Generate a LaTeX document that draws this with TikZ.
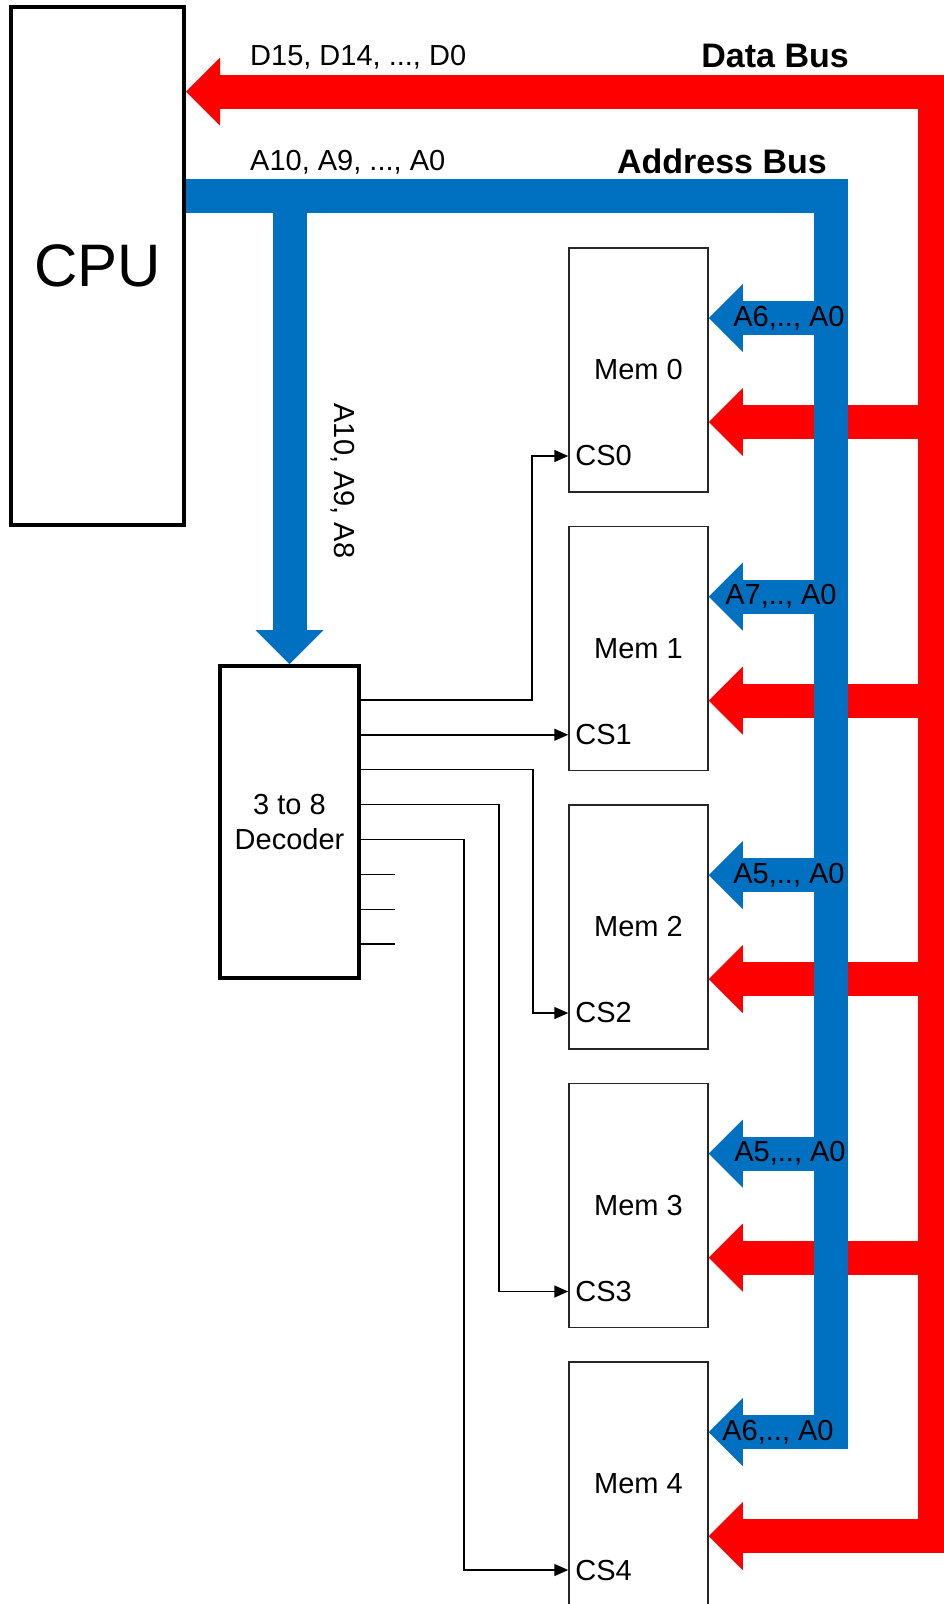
\documentclass[tikz,border=0pt]{standalone}
\usepackage{fontspec}
\setmainfont{Liberation Sans}
\usetikzlibrary{arrows.meta}
\definecolor{busred}{RGB}{255,0,0}
\definecolor{busblue}{RGB}{0,112,192}
\tikzset{
  lbl/.style={font=\fontsize{29}{35}\selectfont, inner sep=0pt},
  busname/.style={font=\fontsize{34}{40}\selectfont\bfseries, inner sep=0pt},
  block/.style={draw, line width=4pt, inner sep=0pt},
  membox/.style={draw=black!85, line width=1.5pt, minimum width=139pt, minimum height=244pt, inner sep=0pt, lbl},
  fatarrow/.style={-{Triangle[length=34pt,width=68pt,line width=0pt]}},
  databus/.style={busred, line width=34pt, line join=miter},
  addrbus/.style={busblue, line width=34pt, line join=miter},
  sel/.style={line width=1.5pt, -{Triangle[length=14pt,width=12pt]}},
}
\begin{document}
\begin{tikzpicture}[x=1pt, y=-1pt]
   \useasboundingbox (0,0) rectangle (943,1604);

   \node[block, minimum width=173pt, minimum height=518pt, font=\fontsize{60}{70}\selectfont] (cpu) at (97.5,266) {CPU};
   \node[block, minimum width=139pt, minimum height=312pt, lbl, align=center] (dec) at (289.5,822) {3 to 8\\Decoder};
   \foreach \i in {0,...,4} {
      \node[membox] (mem\i) at (638.5, 370+278.5*\i) {Mem \i};
      \coordinate (cs\i) at ([yshift=-86pt]mem\i.west);
      \node[lbl, anchor=west] (cslab\i) at ([xshift=7pt]cs\i) {CS\i};
   }

   % data bus
   \coordinate (dcorner) at (935,91.5);
   \coordinate (dend) at (935,1536);
   \draw[databus, fatarrow] (dend) -- (dcorner) -- (cpu.east |- dcorner);
   \foreach \i in {0,...,4} {
      \coordinate (d\i) at (952, 422+278.5*\i);
      \draw[databus, fatarrow] (d\i) -- (d\i -| mem\i.east);
   }

   % address bus
   \coordinate (acorner) at (830.5,196);
   \coordinate (aend) at (830.5,1432);
   \draw[addrbus] (cpu.east |- acorner) -- (acorner) -- (aend);
   \draw[addrbus, fatarrow] (dec.north |- acorner) -- (dec.north);
   \foreach \i/\lab/\lx in {0/A6/789, 1/A7/781, 2/A5/789, 3/A5/790, 4/A6/778} {
      \coordinate (a\i) at (848, 318+278.5*\i);
      \draw[addrbus, fatarrow] (a\i) -- (a\i -| mem\i.east);
      \node[lbl] (alab\i) at (\lx, 318+278.5*\i) {\lab,.., A0};
   }

   \node[lbl, anchor=west] (dlines) at (250,57) {D15, D14, ..., D0};
   \node[lbl, anchor=west] (alines) at (250,162) {A10, A9, ..., A0};
   \node[busname, anchor=east] (dbus) at (849,56) {Data Bus};
   \node[busname, anchor=east] (abus) at (827,161) {Address Bus};
   \node[lbl, rotate=-90] (declines) at (343,481) {A10, A9, A8};

   % chip selects
   \foreach \k in {0,...,7}
      \coordinate (o\k) at ([yshift={(3.5-\k)*34.9}]dec.east);
   \draw[sel] (o1) -- (o1 -| cs1);
   \foreach \k/\dx in {0/171, 2/172, 3/138, 4/103}
      \draw[sel] (o\k) -- ++(\dx,0) |- (cs\k);
   \foreach \k in {5,6,7}
      \draw[line width=1.5pt] (o\k) -- ++(34,0);
\end{tikzpicture}
\end{document}
